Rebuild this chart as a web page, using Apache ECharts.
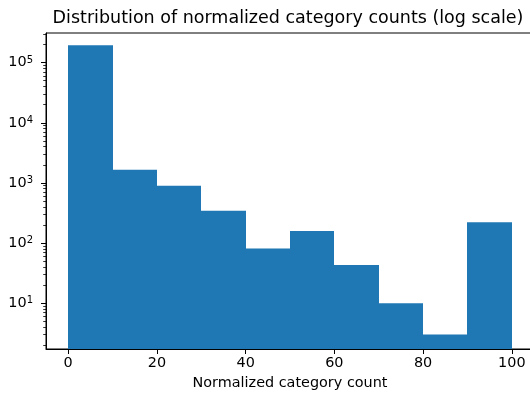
<!DOCTYPE html>
<html>
<head>
<meta charset="utf-8">
<script src="https://cdn.jsdelivr.net/npm/echarts@6/dist/echarts.min.js"></script>
<style>html,body{margin:0;padding:0;background:#fff}#c{width:530px;height:396px}</style>
</head>
<body>
<div id="c"></div>
<script>
// Data
var binStarts = [0, 10, 20, 30, 40, 50, 60, 70, 80, 90];
var binWidth = 10;
var counts = [194000, 1660, 900, 345, 81, 158, 43, 10, 3, 222];
var xTicks = [0, 20, 40, 60, 80, 100];
var yMajorTicks = [10, 100, 1000, 10000, 100000];
var yMinorTicks = [];
[1, 10, 100, 1000, 10000, 100000].forEach(function (d) {
  for (var k = 2; k <= 9; k++) yMinorTicks.push(d * k);
});
var titleText = 'Distribution of normalized category counts (log scale)';
var xName = 'Normalized category count';

var yMin = 1.73, yMax = 311000;
var font = 'DejaVu Sans';

var chart = echarts.init(document.getElementById('c'), null, { renderer: 'canvas' });
var data = binStarts.map(function (s, i) { return [s, s + binWidth, counts[i]]; });

chart.setOption({
  animation: false,
  backgroundColor: '#fff',
  title: {
    text: titleText,
    left: 288, top: 9, padding: 0, textAlign: 'center',
    textStyle: { fontFamily: font, fontSize: 17.5, fontWeight: 'normal', color: '#000' }
  },
  grid: {
    left: 46, top: 33, width: 488, height: 316,
    outerBoundsMode: 'none', containLabel: false,
    show: true, borderColor: '#000', borderWidth: 1, backgroundColor: 'transparent'
  },
  xAxis: {
    type: 'value', min: -5, max: 105,
    name: xName, nameLocation: 'middle', nameGap: 27,
    nameTextStyle: { fontFamily: font, fontSize: 14.4, color: '#000' },
    axisLine: { show: true, onZero: false, lineStyle: { color: '#000', width: 1 } },
    axisTick: { show: true, length: 5, lineStyle: { color: '#000', width: 1 }, customValues: xTicks },
    axisLabel: { show: true, margin: 7, fontFamily: font, fontSize: 14.4, color: '#000', customValues: xTicks },
    splitLine: { show: false }
  },
  yAxis: [{
    type: 'log', logBase: 10, min: yMin, max: yMax,
    axisLine: { show: true, onZero: false, lineStyle: { color: '#000', width: 1 } },
    axisTick: { show: true, length: 5, lineStyle: { color: '#000', width: 1 }, customValues: yMajorTicks },
    axisLabel: {
      show: true, margin: 13, customValues: yMajorTicks,
      formatter: function (v) {
        var e = Math.round(Math.log10(v));
        return '{b|10}{s|' + e + '}';
      },
      rich: {
        b: { fontFamily: font, fontSize: 14.4, color: '#000', lineHeight: 15 },
        s: { fontFamily: font, fontSize: 10, color: '#000', verticalAlign: 'top', lineHeight: 15, padding: [0, 0, 6, 0] }
      }
    },
    splitLine: { show: false }
  }, {
    type: 'log', logBase: 10, min: yMin, max: yMax, position: 'left',
    axisLine: { show: false, onZero: false },
    axisTick: { show: true, length: 2.8, lineStyle: { color: '#000', width: 0.8 }, customValues: yMinorTicks },
    axisLabel: { show: false },
    splitLine: { show: false }
  }],
  series: [{
    type: 'custom',
    clip: true,
    data: data,
    encode: { x: [0, 1], y: 2 },
    renderItem: function (params, api) {
      var x0 = api.value(0), x1 = api.value(1), v = api.value(2);
      var p0 = api.coord([x0, v]);
      var p1 = api.coord([x1, yMin]);
      var left = Math.round(p0[0]), right = Math.round(p1[0]);
      return {
        type: 'rect',
        shape: { x: left, y: p0[1], width: right - left, height: p1[1] - p0[1] },
        style: { fill: '#1f77b4' }
      };
    }
  }]
});
</script>
</body>
</html>
